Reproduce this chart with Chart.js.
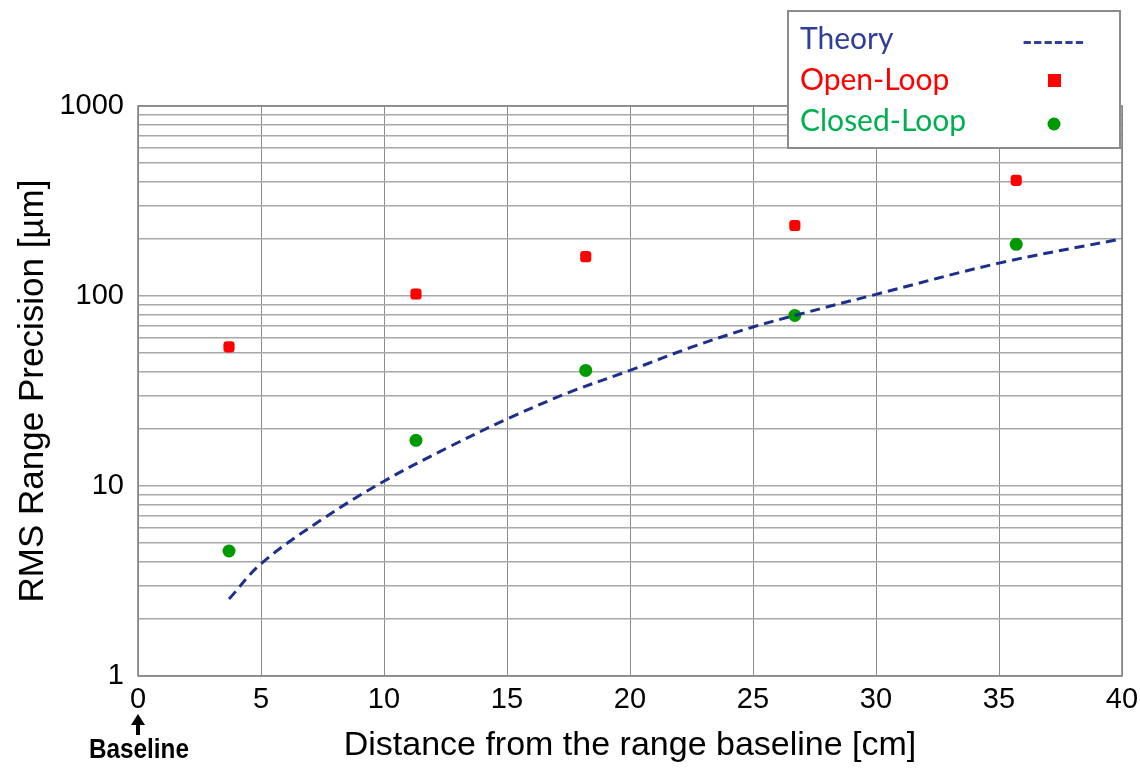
<!DOCTYPE html>
<html>
<head>
<meta charset="utf-8">
<title>RMS Range Precision</title>
<script src="https://cdn.jsdelivr.net/npm/chart.js@4.4.0/dist/chart.umd.min.js"></script>
<style>
  body { margin: 0; background: #fff; }
  canvas { display: block; }
</style>
</head>
<body>
<canvas id="myChart" width="1140" height="771"></canvas>
<script>
// distances of the measurement points [cm]
var distance = [3.7, 11.3, 18.2, 26.7, 35.7];
var openLoop = [54, 102.5, 161, 235, 406];
var closedLoop = [4.55, 17.4, 40.6, 79, 187];

// theory curve
var theoryX = [3.7, 5, 7.5, 10, 12.5, 15, 17.5, 20, 22.5, 25, 26.7, 30, 35, 40];
var theoryY = [2.54, 3.9, 6.7, 10.6, 15.7, 22.5, 31, 40.6, 53.8, 68.7, 79, 102, 149, 200];

var xTicks = [0, 5, 10, 15, 20, 25, 30, 35, 40];
var yDecades = [1, 10, 100, 1000];

var legendNames = ['Theory', 'Open-Loop', 'Closed-Loop'];

var sans = "'Liberation Sans', Arial, sans-serif";

function toPoints(xs, ys) {
  var pts = [];
  for (let i = 0; i < xs.length; i++) pts.push({x: xs[i], y: ys[i]});
  return pts;
}

// all minor grid values 1..9 x 10^k, plus 1000
var yGrid = [];
for (let d = 0; d < 3; d++) {
  for (let m = 1; m < 10; m++) yGrid.push(m * Math.pow(10, d));
}
yGrid.push(1000);

var extras = {
  id: 'extras',
  afterDraw: function(chart) {
    var ctx = chart.ctx;
    var a = chart.chartArea;
    var xs = chart.scales.x;

    // plot frame
    ctx.save();
    ctx.strokeStyle = '#808080';
    ctx.lineWidth = 1.5;
    ctx.strokeRect(a.left, a.top, a.right - a.left, a.bottom - a.top);

    // baseline arrow + label
    var bx = xs.getPixelForValue(0);
    ctx.fillStyle = '#000';
    ctx.beginPath();
    ctx.moveTo(bx, 714);
    ctx.lineTo(bx - 7, 725);
    ctx.lineTo(bx + 7, 725);
    ctx.closePath();
    ctx.fill();
    ctx.fillRect(bx - 2, 724, 4, 11);
    ctx.font = "bold 27px " + sans;
    ctx.textAlign = 'center';
    ctx.textBaseline = 'middle';
    ctx.save();
    ctx.translate(bx + 1, 751);
    ctx.scale(0.9, 1);
    ctx.fillText('Baseline', 0, 0);
    ctx.restore();

    // legend box
    var lx = 788, ly = 11, lw = 332, lh = 137;
    ctx.fillStyle = '#fff';
    ctx.fillRect(lx, ly, lw, lh);
    ctx.strokeStyle = '#8c8c8c';
    ctx.lineWidth = 2;
    ctx.strokeRect(lx, ly, lw, lh);

    ctx.font = "30px Lato, 'Open Sans', sans-serif";
    ctx.textAlign = 'left';
    ctx.textBaseline = 'middle';
    var colors = ['#2f3e96', '#ff0000', '#00b050'];
    var rowsY = [39, 80, 121];
    for (let i = 0; i < legendNames.length; i++) {
      ctx.fillStyle = colors[i];
      ctx.fillText(legendNames[i], 800, rowsY[i]);
    }
    ctx.fillStyle = '#2f3e96';
    ctx.font = "bold 28px Lato, 'Open Sans', sans-serif";
    ctx.fillText('------', 1022, rowsY[0] + 3);
    ctx.fillStyle = '#ff0000';
    ctx.fillRect(1048, 74, 13, 13);
    ctx.fillStyle = '#009900';
    ctx.beginPath();
    ctx.arc(1054, 124, 6.5, 0, Math.PI * 2);
    ctx.fill();
    ctx.restore();
  }
};

new Chart("myChart", {
  type: "scatter",
  data: {
    datasets: [{
      label: 'Theory',
      data: toPoints(theoryX, theoryY),
      showLine: true,
      borderColor: '#1c2f8c',
      borderWidth: 3,
      borderDash: [10, 6],
      pointRadius: 0,
      tension: 0.35,
      fill: false
    }, {
      label: 'Open-Loop',
      data: toPoints(distance, openLoop),
      pointStyle: 'rectRounded',
      pointRadius: 6.5,
      backgroundColor: '#ff0000',
      borderWidth: 0
    }, {
      label: 'Closed-Loop',
      data: toPoints(distance, closedLoop),
      pointStyle: 'circle',
      pointRadius: 6.5,
      backgroundColor: '#009900',
      borderWidth: 0
    }]
  },
  options: {
    responsive: false,
    animation: false,
    layout: { padding: { left: 0, right: 18, top: 106, bottom: 0 } },
    plugins: {
      legend: { display: false },
      tooltip: { enabled: false }
    },
    scales: {
      x: {
        type: 'linear',
        min: 0,
        max: 40,
        afterBuildTicks: function(scale) {
          scale.ticks = xTicks.map(v => ({value: v}));
        },
        afterFit: function(scale) {
          scale.height = 95;
          scale.paddingLeft = 0;
          scale.paddingRight = 0;
        },
        grid: { color: '#8c8c8c', lineWidth: 1, drawTicks: false },
        border: { display: false },
        ticks: {
          color: '#000',
          padding: 7,
          maxRotation: 0,
          font: { family: sans, size: 29 }
        },
        title: {
          display: true,
          text: 'Distance from the range baseline [cm]',
          color: '#000',
          font: { family: sans, size: 34 },
          padding: { top: 0, bottom: 5 }
        }
      },
      y: {
        type: 'logarithmic',
        min: 1,
        max: 1000,
        afterBuildTicks: function(scale) {
          scale.ticks = yGrid.map(v => ({value: v}));
        },
        afterFit: function(scale) { scale.width = 138; },
        grid: { color: '#a8a8a8', lineWidth: 1.5, drawTicks: false },
        border: { display: false },
        ticks: {
          color: '#000',
          padding: 14,
          autoSkip: false,
          font: { family: sans, size: 29 },
          callback: function(v) {
            return yDecades.indexOf(v) >= 0 ? String(v) : '';
          }
        },
        title: {
          display: true,
          text: 'RMS Range Precision [µm]',
          color: '#000',
          font: { family: sans, size: 35 },
          padding: { top: 12, bottom: 0 }
        }
      }
    }
  },
  plugins: [extras]
});
</script>
</body>
</html>
